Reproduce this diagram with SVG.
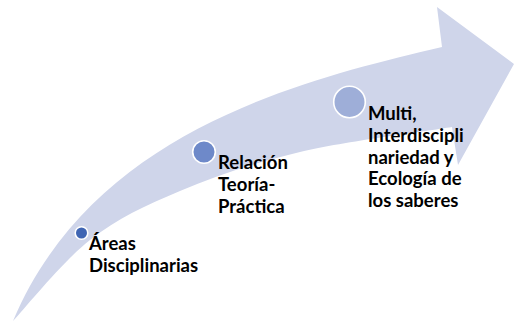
<svg xmlns="http://www.w3.org/2000/svg" width="514" height="322" viewBox="0 0 514 322">
<style>
.lbl{font-family:Lato,"Liberation Sans",sans-serif;font-weight:700;font-size:18.5px;fill:#000}
.dot{stroke:#fff;stroke-width:1.6}
</style>
<rect width="514" height="322" fill="#fff"/>
<g id="connectors">
<path id="arrow" fill="#CFD5EA" d="M13,321 C93,131 302,80 442,47 L437,7 L514,64 L458,165 L452,127 C426.7,131.2 345.3,141.3 300,152 C254.7,162.7 215,176.3 180,191 C145,205.7 117.8,218.3 90,240 C62.2,261.7 25.8,307.5 13,321 Z"/>
</g>
<g id="node-areas">
<circle class="dot" cx="81.5" cy="233" r="6.3" fill="#3F65B3"/>
<text class="lbl" x="89" y="250">Áreas</text>
<text class="lbl" x="89" y="272">Disciplinarias</text>
</g>
<g id="node-relacion">
<circle class="dot" cx="204" cy="152" r="11.3" fill="#6E89C9"/>
<text class="lbl" x="218" y="169">Relación</text>
<text class="lbl" x="218" y="191">Teoría-</text>
<text class="lbl" x="218" y="213">Práctica</text>
</g>
<g id="node-multi">
<circle class="dot" cx="349.5" cy="102" r="15.8" fill="#9EAED8"/>
<text class="lbl" x="368" y="120">Multi,</text>
<text class="lbl" x="368" y="142">Interdiscipli</text>
<text class="lbl" x="368" y="164">nariedad y</text>
<text class="lbl" x="368" y="185">Ecología de</text>
<text class="lbl" x="368" y="207">los saberes</text>
</g>
</svg>
